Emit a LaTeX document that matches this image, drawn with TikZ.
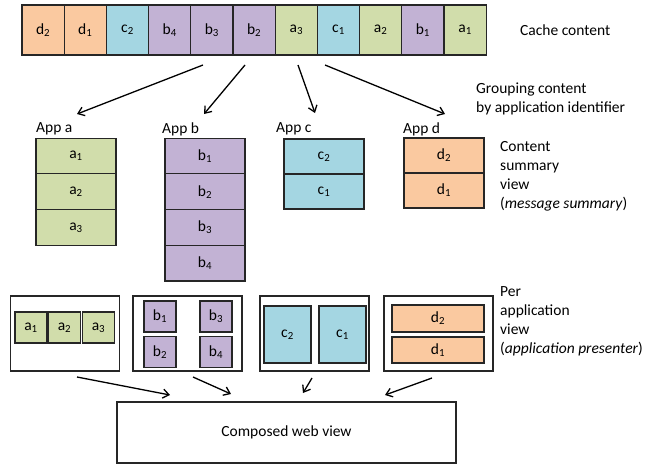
\documentclass[tikz,border=0pt]{standalone}
\usepackage{fontspec}
\setmainfont{Carlito}
\usetikzlibrary{arrows.meta}
\definecolor{cgreen}{HTML}{D1DDAB}
\definecolor{cblue}{HTML}{A4D6E2}
\definecolor{cpurple}{HTML}{C2B2D4}
\definecolor{corange}{HTML}{FAC9A0}
\newcommand\sbs[1]{\textsubscript{#1}}
\tikzset{
  cell/.style={draw=black!85, line width=1.2pt, inner sep=0pt, outer sep=0pt, font=\fontsize{15.5}{18}\selectfont},
  ccell/.style={cell, minimum width=42.2pt, minimum height=50pt},
  scell/.style={cell, minimum width=80pt, minimum height=35.7pt},
  frame/.style={draw=black!85, line width=1.2pt, inner sep=0pt, minimum width=109pt, minimum height=75pt},
  lbl/.style={inner sep=0pt, font=\fontsize{15.5}{19}\selectfont, align=left},
  arr/.style={line width=1.3pt, -{Straight Barb[length=6pt,width=9pt,line width=1.3pt]}},
  G/.style={fill=cgreen}, B/.style={fill=cblue}, P/.style={fill=cpurple}, O/.style={fill=corange}
}
\begin{document}
\begin{tikzpicture}[x=1pt,y=-1pt]
\useasboundingbox (0,0) rectangle (658,466);
% cache row
\foreach \t/\s [count=\i from 0] in {d\sbs{2}/O, d\sbs{1}/O, c\sbs{2}/B, b\sbs{4}/P, b\sbs{3}/P, b\sbs{2}/P, a\sbs{3}/G, c\sbs{1}/B, a\sbs{2}/G, b\sbs{1}/P, a\sbs{1}/G}
  \node[ccell,\s] (k\i) at ({22+42.2*(\i+0.5)},30) {\t};
\node[lbl, anchor=west] (cachelbl) at (520,30) {Cache content};
\node[lbl, anchor=west] (grplbl) at (476,98.5) {Grouping content\\by application identifier};

% app stacks
\node[lbl, anchor=west] (appa) at (36,129) {App a};
\node[lbl, anchor=west] (appb) at (162,129) {App b};
\node[lbl, anchor=west] (appc) at (276,129) {App c};
\node[lbl, anchor=west] (appd) at (403,129) {App d};

\node[scell,G] (sa1) at (76,156) {a\sbs{1}};
\node[scell,G] (sa2) at (76,191.7) {a\sbs{2}};
\node[scell,G] (sa3) at (76,227.4) {a\sbs{3}};
\node[scell,P] (sb1) at (205,156) {b\sbs{1}};
\node[scell,P] (sb2) at (205,191.7) {b\sbs{2}};
\node[scell,P] (sb3) at (205,227.4) {b\sbs{3}};
\node[scell,P] (sb4) at (205,263.1) {b\sbs{4}};
\node[scell,B,minimum height=35pt] (sc2) at (324,156.5) {c\sbs{2}};
\node[scell,B,minimum height=35pt] (sc1) at (324,191.5) {c\sbs{1}};
\node[scell,O,minimum height=35pt] (sd2) at (444,155.5) {d\sbs{2}};
\node[scell,O,minimum height=35pt] (sd1) at (444,190.5) {d\sbs{1}};
\node[lbl, anchor=west] (sumlbl) at (500,176.5) {Content\\summary\\view\\(\textit{message summary})};

% grouping arrows
\coordinate (t1) at (203,65); \coordinate (h1) at (77,114);
\coordinate (t2) at (245,65); \coordinate (h2) at (204,114);
\coordinate (t3) at (298,65); \coordinate (h3) at (315,113);
\coordinate (t4) at (325,65); \coordinate (h4) at (445,114);
\draw[arr] (t1) -- (h1);
\draw[arr] (t2) -- (h2);
\draw[arr] (t3) -- (h3);
\draw[arr] (t4) -- (h4);

% per application views
\node[frame] (fa) at (65,333.5) {};
\node[frame] (fb) at (187.5,333.5) {};
\node[frame] (fc) at (314.5,333.5) {};
\node[frame] (fd) at (438.5,333.5) {};

\node[cell,G,minimum width=32pt,minimum height=31pt] (pa1) at (31,327.5) {a\sbs{1}};
\node[cell,G,minimum width=32pt,minimum height=31pt] (pa2) at (64.5,327.5) {a\sbs{2}};
\node[cell,G,minimum width=32pt,minimum height=31pt] (pa3) at (98.5,327.5) {a\sbs{3}};
\node[cell,P,minimum width=32pt,minimum height=31pt] (pb1) at (160,316.5) {b\sbs{1}};
\node[cell,P,minimum width=32pt,minimum height=31pt] (pb2) at (160,352) {b\sbs{2}};
\node[cell,P,minimum width=32pt,minimum height=31pt] (pb3) at (216,316.5) {b\sbs{3}};
\node[cell,P,minimum width=32pt,minimum height=31pt] (pb4) at (216,352) {b\sbs{4}};
\node[cell,B,minimum width=47pt,minimum height=57pt] (pc2) at (287.5,334.5) {c\sbs{2}};
\node[cell,B,minimum width=47pt,minimum height=57pt] (pc1) at (342.5,334.5) {c\sbs{1}};
\node[cell,O,minimum width=92pt,minimum height=27pt] (pd2) at (438,318.5) {d\sbs{2}};
\node[cell,O,minimum width=92pt,minimum height=26pt] (pd1) at (438,350) {d\sbs{1}};
\node[lbl, anchor=west] (perlbl) at (500,321) {Per\\application\\view\\(\textit{application presenter})};

% composed
\node[frame, minimum width=339pt, minimum height=61pt, font=\fontsize{15.5}{18}\selectfont] (web) at (286.5,432.5) {Composed web view};

\coordinate (u1) at (77,377); \coordinate (v1) at (170,395);
\coordinate (u2) at (193,377); \coordinate (v2) at (231,394);
\coordinate (u3) at (312,378); \coordinate (v3) at (303,393);
\coordinate (u4) at (432,378); \coordinate (v4) at (385,395);
\draw[arr] (u1) -- (v1);
\draw[arr] (u2) -- (v2);
\draw[arr] (u3) -- (v3);
\draw[arr] (u4) -- (v4);
\end{tikzpicture}
\end{document}
